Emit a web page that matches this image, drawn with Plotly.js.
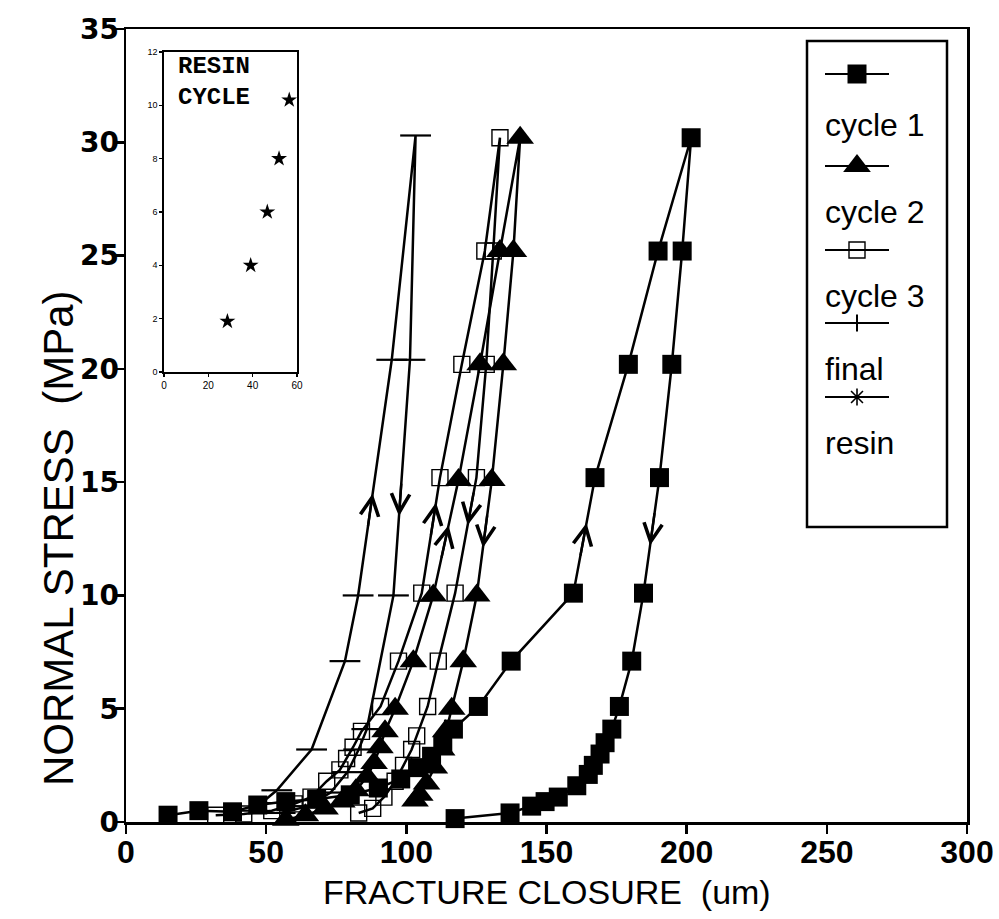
<!DOCTYPE html>
<html>
<head>
<meta charset="utf-8">
<script src="https://cdn.plot.ly/plotly-3.0.1.min.js"></script>
<style>html,body{margin:0;padding:0;background:#fff;}#chart{width:999px;height:919px;}</style>
</head>
<body>
<div id="chart"></div>
<script>
// ---- data ----
const cycle1X = [15, 26, 38, 47, 57, 68, 80, 90, 98, 104, 109, 113, 116.8, 125.7, 137.4, 159.6, 167.3, 179.2, 189.8, 201.6,
                 198.4, 194.7, 190.3, 184.6, 180.4, 176, 173.3, 170.9, 169.1, 166.7, 164.9, 160.8, 154.2, 149.5, 144.7, 137, 117.4];
const cycle1Y = [0.3, 0.5, 0.45, 0.75, 0.9, 1.0, 1.2, 1.5, 1.9, 2.4, 2.9, 3.4, 4.1, 5.1, 7.1, 10.1, 15.2, 20.2, 25.2, 30.2,
                 25.2, 20.2, 15.2, 10.1, 7.1, 5.1, 4.1, 3.5, 3.0, 2.5, 2.1, 1.6, 1.1, 0.9, 0.7, 0.4, 0.15];
const cycle2X = [57, 64, 71, 77, 82, 86, 88.5, 90.6, 92.4, 96, 102.5, 109.6, 118.6, 126.3, 133.4, 140.6,
                 138.2, 134.6, 130.5, 125.1, 120.3, 116.2, 114, 112.6, 110, 107.2, 104.8, 103.1];
const cycle2Y = [0.1, 0.3, 0.6, 0.9, 1.4, 2.0, 2.6, 3.3, 4.0, 5.0, 7.1, 10.0, 15.1, 20.2, 25.2, 30.2,
                 25.2, 20.2, 15.1, 10.0, 7.1, 5.0, 4.0, 3.2, 2.4, 1.7, 1.2, 0.95];
const cycle3X = [32, 42, 52, 60, 66, 71.6, 76.3, 78.7, 81, 84, 90.8, 97.2, 105.5, 112, 119.8, 128, 133.4,
                 131, 128.5, 125, 117.4, 111.4, 107.6, 103.7, 101.9, 99, 96, 92, 88, 83];
const cycle3Y = [0.3, 0.35, 0.5, 0.8, 1.1, 1.8, 2.3, 2.8, 3.3, 4.0, 5.1, 7.1, 10.1, 15.2, 20.2, 25.2, 30.2,
                 25.2, 20.2, 15.2, 10.1, 7.1, 5.1, 3.8, 3.2, 2.5, 1.8, 1.1, 0.6, 0.4];
const finalX = [45, 53.8, 66.2, 78.1, 82.8, 94.8, 103.3, 101.3, 95.4, 85.9, 83, 79, 73, 65, 55];
const finalY = [0.5, 1.4, 3.2, 7.1, 10.0, 20.4, 30.3, 20.4, 10.0, 4.1, 3.2, 2.2, 1.3, 0.7, 0.4];
const resinX = [28.6, 39.1, 46.6, 51.9, 56.5];
const resinY = [1.9, 4.0, 6.0, 8.0, 10.2];

const seriesNames = ['cycle 1', 'cycle 2', 'cycle 3', 'final', 'resin'];
const xTicks = [0, 50, 100, 150, 200, 250, 300];
const yTicks = [0, 5, 10, 15, 20, 25, 30, 35];
const insetXTicks = [0, 20, 40, 60];
const insetYTicks = [0, 2, 4, 6, 8, 10, 12];

// ---- styles ----
const K = '#000';
const LW = 2.5;
const styles = [
  {symbol: 'square', size: 19, color: K, line: {color: K, width: 0}},
  {symbol: 'triangle-up', size: 24, color: K, line: {color: K, width: 0}},
  {symbol: 'square-open', size: 16, color: K, line: {color: K, width: 1.4}},
  {symbol: 'line-ew', size: 22, color: K, line: {color: K, width: 2.2}},
  {symbol: 'asterisk-open', size: 14, color: K, line: {color: K, width: 1.6}}
];
const legendStyles = styles.map((s, i) => i === 3 ? {symbol: 'line-ns', size: 12, color: K, line: {color: K, width: 2}} : s);

// plot area in pixels
const L = 126, R = 967, T = 29, B = 822;
const px2paperX = p => (p - L) / (R - L);
const px2paperY = p => (B - p) / (B - T);

const mainSeries = [[cycle1X, cycle1Y], [cycle2X, cycle2Y], [cycle3X, cycle3Y], [finalX, finalY]];
// draw order: open squares first so filled markers sit on top
const drawOrder = [2, 3, 1, 0];
const traces = drawOrder.map(i => ({
  type: 'scatter', mode: 'lines+markers', x: mainSeries[i][0], y: mainSeries[i][1], name: seriesNames[i],
  line: {color: K, width: LW}, marker: styles[i], showlegend: false, cliponaxis: false
}));

// inset: resin cycle
traces.push({
  type: 'scatter', mode: 'markers', x: resinX, y: resinY, xaxis: 'x2', yaxis: 'y2',
  marker: {symbol: 'star', size: 12, color: K}, showlegend: false
});

// custom legend (symbol above label), drawn on a pixel overlay axis
const legBox = {x0: 807, x1: 947, y0: 41, y1: 527};
const legSampleY = [74, 166, 250, 323, 397];
const legLabelY = [125, 212, 296, 369, 443];
const legLineX = [825, 889];
const legMarkX = 857;
legSampleY.forEach((yy, i) => {
  traces.push({type: 'scatter', mode: 'lines', x: legLineX, y: [yy, yy], xaxis: 'x3', yaxis: 'y3',
    line: {color: K, width: 2}, showlegend: false, hoverinfo: 'skip'});
  traces.push({type: 'scatter', mode: 'markers', x: [legMarkX], y: [yy], xaxis: 'x3', yaxis: 'y3',
    marker: legendStyles[i], showlegend: false, hoverinfo: 'skip'});
});

// direction arrows on loading (up) and unloading (down) branches
const arrowLevels = [12.7, 12.6, 13.6, 14.0];
const annotations = [];
mainSeries.forEach((s, si) => {
  const xs = s[0], ys = s[1], lev = arrowLevels[si];
  for (let i = 0; i < xs.length - 1; i++) {
    const a = ys[i], b = ys[i + 1];
    if ((a - lev) * (b - lev) <= 0 && a !== b) {
      const t = (lev - a) / (b - a);
      const dx = (xs[i + 1] - xs[i]) / (b - a), dir = b > a ? 1 : -1;
      const hx = xs[i] + t * (xs[i + 1] - xs[i]);
      annotations.push({x: hx + dx * 0.5 * dir, y: lev + 0.5 * dir, ax: hx - dx * 1.0 * dir, ay: lev - 1.0 * dir,
        xref: 'x', yref: 'y', axref: 'x', ayref: 'y', text: '', showarrow: true,
        arrowhead: 5, arrowsize: 1.5, arrowwidth: 2.4, arrowcolor: K});
    }
  }
});

// legend labels
legLabelY.forEach((yy, i) => {
  annotations.push({xref: 'paper', yref: 'paper', x: px2paperX(legLineX[0] - 2), y: px2paperY(yy),
    xanchor: 'left', yanchor: 'middle', text: seriesNames[i], showarrow: false,
    font: {family: 'Liberation Sans, Arial, sans-serif', size: 32, color: K}});
});

// inset label
annotations.push({xref: 'paper', yref: 'paper', x: px2paperX(176), y: px2paperY(82),
  xanchor: 'left', yanchor: 'middle', align: 'left', text: '<b>RESIN<br>CYCLE</b>', showarrow: false,
  font: {family: 'Liberation Mono, Courier New, monospace', size: 24, color: K}});

// y-axis title
annotations.push({xref: 'paper', yref: 'paper', x: px2paperX(58), y: px2paperY(538),
  xanchor: 'center', yanchor: 'middle', textangle: -90, text: 'NORMAL STRESS  (MPa)', showarrow: false,
  font: {family: 'Liberation Sans, Arial, sans-serif', size: 42, color: K}});

// x-axis title
annotations.push({xref: 'paper', yref: 'paper', x: 0.5, y: px2paperY(892),
  xanchor: 'center', yanchor: 'middle', text: 'FRACTURE CLOSURE  (um)', showarrow: false,
  font: {family: 'Liberation Sans, Arial, sans-serif', size: 34, color: K}});

const shapes = [{type: 'rect', xref: 'paper', yref: 'paper',
  x0: px2paperX(legBox.x0), x1: px2paperX(legBox.x1), y0: px2paperY(legBox.y1), y1: px2paperY(legBox.y0),
  line: {color: K, width: 2.5}, fillcolor: 'rgba(0,0,0,0)'}];

const frameAxis = {showline: true, linecolor: K, linewidth: 2.5, mirror: true, showgrid: false, zeroline: false,
  ticks: 'outside', tickwidth: 2.5, tickcolor: K, showticklabels: false};

const layout = {
  width: 999, height: 919,
  margin: {l: L, r: 999 - R, t: T, b: 919 - B, pad: 0},
  paper_bgcolor: '#fff', plot_bgcolor: '#fff',
  showlegend: false,
  // main axes: frame + tick marks
  xaxis: Object.assign({range: [0, 300], tickvals: xTicks, ticklen: 9}, frameAxis),
  yaxis: Object.assign({range: [0, 35], tickvals: yTicks, ticklen: 8}, frameAxis),
  // label-only axes sharing the same scales
  xaxis4: {overlaying: 'x', anchor: 'y', side: 'bottom', matches: 'x', range: [0, 300], tickvals: xTicks,
    ticktext: xTicks.map(String), ticks: '', showline: false, showgrid: false, zeroline: false, ticklabelstandoff: 8,
    tickfont: {family: 'Liberation Sans Narrow, Liberation Sans, Arial, sans-serif', size: 32, color: K, weight: 'bold'}},
  yaxis4: {overlaying: 'y', anchor: 'x', side: 'left', matches: 'y', range: [0, 35], tickvals: yTicks,
    ticktext: yTicks.map(String), ticks: '', showline: false, showgrid: false, zeroline: false, ticklabelstandoff: 6,
    tickfont: {family: 'DejaVu Sans, sans-serif', size: 28, color: K, weight: 'bold'}},
  xaxis2: {domain: [px2paperX(164), px2paperX(297)], anchor: 'y2', range: [0, 60], tickvals: insetXTicks,
    ticks: 'outside', ticklen: 3, tickwidth: 1.5, tickcolor: K, showline: true, linecolor: K, linewidth: 1.8, mirror: true,
    showgrid: false, zeroline: false, tickfont: {family: 'Liberation Sans, Arial, sans-serif', size: 10, color: K}},
  yaxis2: {domain: [px2paperY(372), px2paperY(52)], anchor: 'x2', range: [0, 12], tickvals: insetYTicks,
    ticks: 'outside', ticklen: 3, tickwidth: 1.5, tickcolor: K, showline: true, linecolor: K, linewidth: 1.8, mirror: true,
    showgrid: false, zeroline: false, tickfont: {family: 'Liberation Sans, Arial, sans-serif', size: 9, color: K}},
  xaxis3: {overlaying: 'x', range: [L, R], visible: false, fixedrange: true},
  yaxis3: {overlaying: 'y', range: [B, T], visible: false, fixedrange: true},
  annotations: annotations,
  shapes: shapes
};

// a hidden trace so the label-only axes are drawn
traces.push({type: 'scatter', mode: 'markers', x: [xTicks[0]], y: [yTicks[0]], xaxis: 'x4', yaxis: 'y4',
  marker: {opacity: 0}, showlegend: false, hoverinfo: 'skip'});

Plotly.newPlot('chart', traces, layout, {staticPlot: true, displayModeBar: false});
</script>
</body>
</html>
